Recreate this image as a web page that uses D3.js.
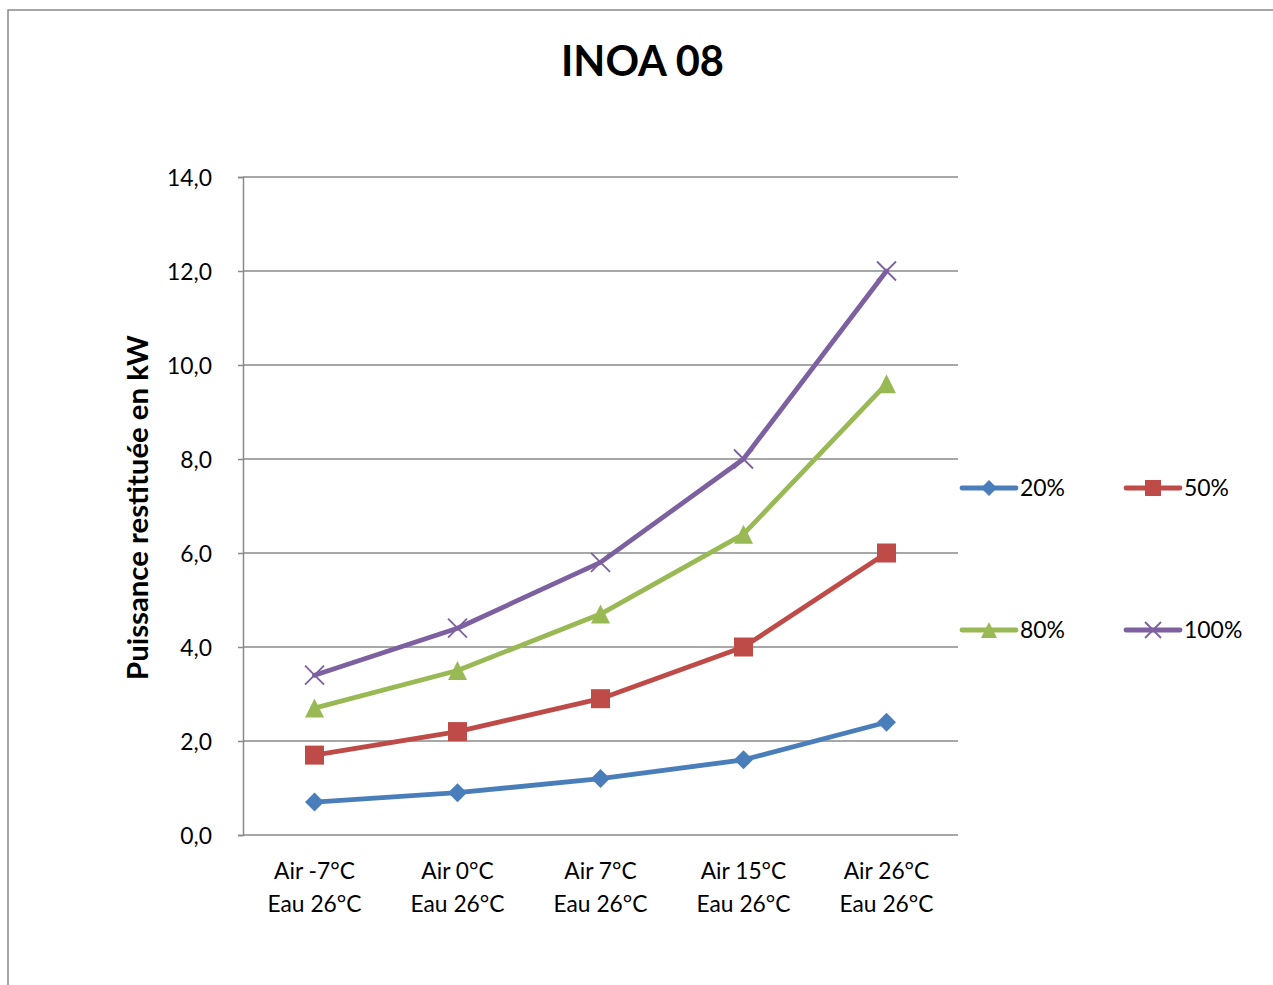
<!DOCTYPE html>
<html>
<head>
<meta charset="utf-8">
<script src="https://cdn.jsdelivr.net/npm/d3@7"></script>
<style>
  html, body { margin: 0; padding: 0; background: #fff; }
  svg { display: block; font-family: Lato, "Open Sans", sans-serif; }
</style>
</head>
<body>
<svg id="chart" width="1273" height="985"></svg>
<script>
const title = "INOA 08";
const yAxisTitle = "Puissance restituée en kW";
const categories = [
  ["Air -7°C", "Eau 26°C"],
  ["Air 0°C", "Eau 26°C"],
  ["Air 7°C", "Eau 26°C"],
  ["Air 15°C", "Eau 26°C"],
  ["Air 26°C", "Eau 26°C"]
];
const seriesNames = ["20%", "50%", "80%", "100%"];
const values20 = [0.7, 0.9, 1.2, 1.6, 2.4];
const values50 = [1.7, 2.2, 2.9, 4.0, 6.0];
const values80 = [2.7, 3.5, 4.7, 6.4, 9.6];
const values100 = [3.4, 4.4, 5.8, 8.0, 12.0];
const yTicks = [0, 2, 4, 6, 8, 10, 12, 14];
const colors = ["#4A7EBB", "#BE4B48", "#98B954", "#7D60A0"];
const markers = ["diamond", "square", "triangle", "x"];

const series = [values20, values50, values80, values100].map((v, i) => ({
  name: seriesNames[i], values: v, color: colors[i], marker: markers[i]
}));

const svg = d3.select("#chart");
const W = 1273, H = 985;
const plot = { left: 243, right: 958, top: 177, bottom: 835 };

svg.append("rect").attr("width", W).attr("height", H).attr("fill", "#fff");

// outer border (top and left visible)
svg.append("path")
  .attr("d", `M8,${H} L8,10 L${W},10`)
  .attr("fill", "none").attr("stroke", "#898989").attr("stroke-width", 1.5);

function fitFont(sel, target, start) {
  sel.attr("font-size", start);
  const w = sel.node().getComputedTextLength();
  const s = start * target / w;
  sel.attr("font-size", s);
  return s;
}

const catKeys = categories.map((c, i) => i);
const x = d3.scaleBand().domain(catKeys).range([plot.left, plot.right]);
const xc = i => x(i) + x.bandwidth() / 2;
const y = d3.scaleLinear().domain([0, 14]).range([plot.bottom, plot.top]);

// gridlines
svg.append("g").selectAll("line").data(yTicks.filter(t => t > 0)).join("line")
  .attr("x1", plot.left).attr("x2", plot.right)
  .attr("y1", d => y(d)).attr("y2", d => y(d))
  .attr("stroke", "#8a8a8a").attr("stroke-width", 1.5);

// y axis
const yAxis = d3.axisLeft(y).tickValues(yTicks).tickSize(5).tickPadding(26)
  .tickFormat(d => d3.format(".1f")(d).replace(".", ","));
const gy = svg.append("g").attr("transform", `translate(${plot.left},0)`).call(yAxis);
gy.select(".domain").attr("stroke", "#8a8a8a").attr("stroke-width", 1.5);
gy.selectAll(".tick line").attr("stroke", "#8a8a8a").attr("stroke-width", 1.5);
const tickTexts = gy.selectAll(".tick text").attr("fill", "#000").attr("font-family", "Lato, sans-serif");
const sample = gy.selectAll(".tick text").filter(d => d === 14);
const tfs = fitFont(sample, 45, 22);
tickTexts.attr("font-size", tfs).attr("dy", "0.36em");

// x axis line
svg.append("line")
  .attr("x1", plot.left).attr("x2", plot.right)
  .attr("y1", plot.bottom).attr("y2", plot.bottom)
  .attr("stroke", "#8a8a8a").attr("stroke-width", 1.5);

// x labels
const xl = svg.append("g").selectAll("text").data(categories).join("text")
  .attr("text-anchor", "middle").attr("fill", "#000");
xl.append("tspan").attr("x", (d, i) => xc(i)).attr("y", 879).text(d => d[0]);
xl.append("tspan").attr("x", (d, i) => xc(i)).attr("y", 912).text(d => d[1]);
{
  const probe = svg.append("text").text(categories[0][1]);
  const s = fitFont(probe, 94, 22);
  probe.remove();
  xl.attr("font-size", s);
}

// title
const tt = svg.append("text").attr("x", 642.5).attr("y", 76)
  .attr("text-anchor", "middle").attr("font-weight", "bold").attr("fill", "#000").text(title);
fitFont(tt, 163, 40);

// y axis title
const yt = svg.append("text").attr("transform", "translate(148,507.5) rotate(-90)")
  .attr("text-anchor", "middle").attr("font-weight", "bold").attr("fill", "#000").text(yAxisTitle);
fitFont(yt, 345, 24);

// marker drawing
function drawMarker(g, type, color, size) {
  const h = size / 2;
  if (type === "diamond") {
    g.append("path").attr("d", `M0,${-h} L${h},0 L0,${h} L${-h},0 Z`).attr("fill", color);
  } else if (type === "square") {
    g.append("rect").attr("x", -h).attr("y", -h).attr("width", size).attr("height", size).attr("fill", color);
  } else if (type === "triangle") {
    g.append("path").attr("d", `M0,${-h} L${h},${h} L${-h},${h} Z`).attr("fill", color);
  } else if (type === "x") {
    const k = h;
    g.append("path").attr("d", `M${-k},${-k} L${k},${k} M${-k},${k} L${k},${-k}`)
      .attr("stroke", color).attr("stroke-width", 1.8).attr("fill", "none");
  }
}

const line = d3.line().x((d, i) => xc(i)).y(d => y(d)).curve(d3.curveLinear);

const sg = svg.append("g");
series.forEach(s => {
  sg.append("path").datum(s.values).attr("d", line)
    .attr("fill", "none").attr("stroke", s.color).attr("stroke-width", 4.8)
    .attr("stroke-linejoin", "round").attr("stroke-linecap", "round");
  s.values.forEach((v, i) => {
    const g = sg.append("g").attr("transform", `translate(${xc(i)},${y(v)})`);
    drawMarker(g, s.marker, s.color, s.marker === "diamond" ? 19 : 19);
  });
});

// legend
const legendPos = [
  { x: 962, y: 488 }, { x: 1126, y: 488 },
  { x: 962, y: 630 }, { x: 1126, y: 630 }
];
const lg = svg.append("g");
let legendFont = null;
series.forEach((s, i) => {
  const p = legendPos[i];
  const g = lg.append("g").attr("transform", `translate(${p.x},${p.y})`);
  g.append("line").attr("x1", 0).attr("x2", 54).attr("y1", 0).attr("y2", 0)
    .attr("stroke", s.color).attr("stroke-width", 4.8).attr("stroke-linecap", "round");
  const mg = g.append("g").attr("transform", "translate(27,0)");
  drawMarker(mg, s.marker, s.color, 16);
  const t = g.append("text").attr("x", 58).attr("y", 0).attr("dy", "0.36em").attr("fill", "#000").text(s.name);
  if (legendFont === null) legendFont = fitFont(t, 45, 22);
  t.attr("font-size", legendFont);
});
</script>
</body>
</html>
